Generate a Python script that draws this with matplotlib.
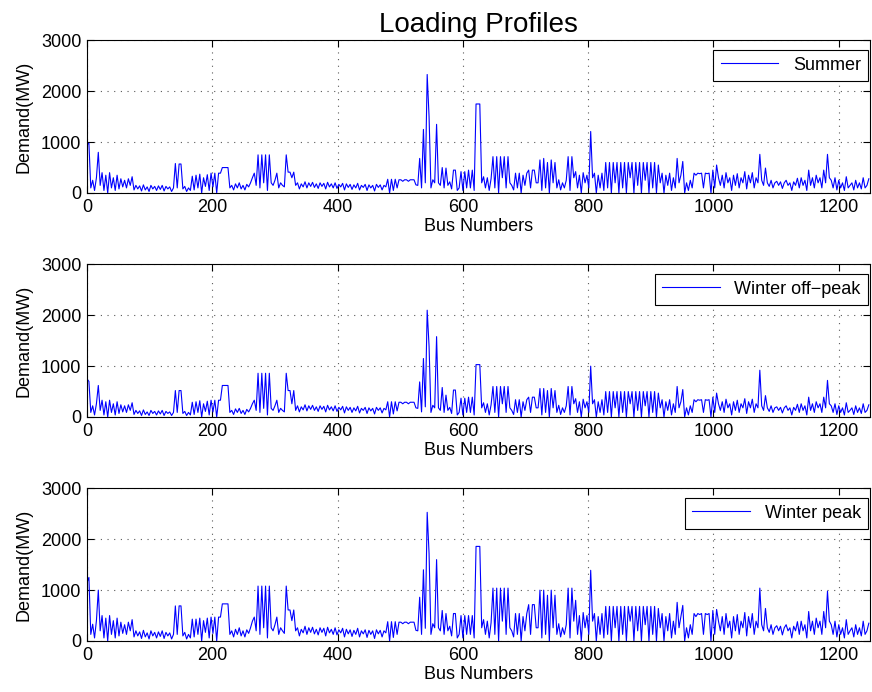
import numpy as np
import matplotlib
matplotlib.use('Agg')
import matplotlib.pyplot as plt

# demand every 3 buses (bus 0, 3, 6, ... 1248)
bus_step = 3

summer = [
    950, 980, 100, 250, 50, 300, 800, 150, 400, 50, 350, 0, 400, 100, 300, 50, 350, 80, 280, 120,
    250, 100, 280, 150, 320, 60, 150, 80, 140, 40, 160, 60, 120, 30, 150, 80, 130, 50, 140, 70,
    150, 40, 130, 80, 120, 30, 100, 580, 100, 570, 570, 80, 130, 30, 100, 50, 330, 60, 350, 100,
    370, 0, 300, 130, 360, 50, 390, 120, 390, 0, 390, 390, 500, 500, 500, 500, 100, 150, 60, 180,
    100, 200, 80, 150, 60, 170, 120, 200, 300, 390, 150, 750, 100, 750, 200, 750, 50, 750, 200, 150,
    250, 390, 100, 200, 150, 120, 750, 410, 410, 300, 410, 150, 200, 80, 180, 120, 220, 100, 200, 130,
    210, 110, 180, 90, 200, 130, 190, 80, 210, 120, 180, 100, 200, 90, 170, 120, 190, 60, 180, 110,
    170, 70, 160, 100, 190, 60, 150, 110, 170, 50, 160, 100, 150, 40, 170, 110, 160, 60, 150, 120,
    270, 0, 270, 50, 270, 100, 260, 260, 230, 260, 260, 230, 260, 260, 260, 160, 150, 680, 100, 1250,
    200, 2330, 1500, 100, 260, 200, 1350, 200, 150, 500, 100, 490, 150, 220, 80, 450, 450, 50, 100, 420,
    50, 420, 100, 450, 100, 450, 50, 1750, 1750, 1750, 200, 320, 100, 300, 50, 280, 715, 100, 715, 0,
    715, 300, 715, 100, 715, 200, 150, 60, 390, 100, 390, 0, 350, 150, 390, 450, 100, 450, 450, 200,
    200, 650, 50, 680, 100, 600, 0, 650, 200, 600, 100, 260, 60, 200, 100, 250, 715, 50, 715, 300,
    420, 100, 350, 0, 400, 200, 350, 100, 1210, 300, 390, 0, 350, 100, 390, 50, 600, 100, 600, 0,
    600, 200, 600, 0, 600, 100, 600, 0, 600, 300, 600, 0, 600, 150, 600, 0, 600, 250, 600, 0,
    600, 100, 600, 0, 550, 200, 390, 0, 350, 150, 390, 50, 300, 100, 680, 200, 350, 620, 0, 200,
    50, 250, 100, 390, 350, 390, 380, 390, 100, 390, 380, 390, 0, 450, 100, 550, 300, 150, 350, 100,
    400, 200, 300, 50, 350, 150, 380, 100, 300, 200, 420, 80, 350, 200, 400, 100, 300, 200, 760, 250,
    150, 490, 200, 130, 250, 100, 200, 230, 150, 220, 90, 200, 250, 150, 200, 50, 220, 150, 290, 100,
    300, 150, 250, 50, 450, 150, 300, 100, 350, 200, 300, 100, 450, 200, 760, 300, 250, 100, 300, 60,
    250, 100, 200, 50, 320, 100, 150, 200, 60, 250, 100, 200, 80, 300, 100, 150, 280,
]

winter_offpeak = [
    750, 700, 90, 220, 40, 260, 620, 130, 330, 40, 300, 0, 330, 90, 260, 40, 300, 70, 240, 100,
    220, 90, 240, 130, 280, 50, 130, 70, 120, 30, 140, 50, 100, 30, 130, 70, 110, 40, 120, 60,
    130, 30, 110, 70, 100, 30, 90, 520, 90, 520, 520, 70, 110, 30, 90, 40, 290, 50, 300, 90,
    320, 0, 260, 110, 310, 40, 330, 100, 330, 0, 330, 330, 620, 620, 620, 620, 90, 130, 50, 160,
    90, 170, 70, 130, 50, 150, 100, 170, 260, 330, 130, 860, 90, 860, 170, 860, 40, 860, 170, 130,
    220, 330, 90, 170, 130, 100, 860, 520, 520, 260, 520, 130, 220, 100, 200, 140, 240, 120, 220, 150,
    230, 130, 200, 110, 220, 150, 210, 100, 230, 140, 200, 120, 220, 110, 190, 140, 210, 80, 200, 130,
    190, 90, 180, 120, 210, 80, 170, 130, 190, 70, 180, 120, 170, 60, 190, 130, 180, 80, 170, 140,
    300, 0, 300, 60, 300, 120, 290, 290, 260, 290, 290, 260, 290, 290, 290, 180, 170, 690, 100, 1150,
    200, 2100, 1390, 90, 230, 180, 1580, 180, 130, 580, 90, 430, 130, 190, 70, 530, 530, 40, 90, 370,
    40, 370, 90, 390, 90, 390, 40, 1030, 1030, 1030, 180, 280, 90, 260, 40, 240, 600, 90, 600, 0,
    600, 260, 600, 90, 600, 180, 130, 50, 340, 90, 340, 0, 300, 130, 340, 390, 90, 390, 390, 180,
    180, 560, 40, 560, 90, 520, 0, 560, 180, 520, 90, 230, 50, 180, 90, 220, 600, 40, 600, 260,
    360, 90, 300, 0, 350, 180, 300, 90, 1000, 260, 340, 0, 300, 90, 340, 40, 500, 90, 500, 0,
    500, 180, 500, 0, 500, 90, 500, 0, 500, 260, 500, 0, 500, 130, 500, 0, 500, 220, 500, 0,
    500, 90, 500, 0, 470, 180, 340, 0, 300, 130, 340, 40, 260, 90, 600, 180, 300, 540, 0, 180,
    40, 220, 90, 340, 300, 340, 330, 340, 90, 340, 330, 340, 0, 390, 90, 470, 260, 130, 300, 90,
    350, 180, 260, 40, 300, 130, 330, 90, 260, 180, 360, 70, 300, 180, 350, 90, 260, 180, 920, 220,
    130, 420, 180, 110, 220, 90, 180, 200, 130, 190, 80, 180, 220, 130, 180, 40, 190, 130, 250, 90,
    260, 130, 220, 40, 390, 130, 260, 90, 300, 180, 260, 90, 390, 180, 720, 260, 220, 90, 260, 50,
    220, 90, 180, 40, 280, 90, 130, 180, 50, 220, 90, 180, 70, 260, 90, 130, 240,
]

winter_peak = [
    1150, 1250, 130, 330, 60, 400, 1000, 200, 500, 60, 450, 0, 500, 130, 400, 60, 450, 100, 370, 150,
    320, 130, 370, 200, 420, 80, 200, 100, 180, 50, 210, 80, 160, 40, 200, 100, 170, 60, 180, 90,
    200, 50, 170, 100, 160, 40, 130, 690, 130, 690, 690, 100, 170, 40, 130, 60, 430, 80, 430, 130,
    450, 0, 400, 170, 450, 60, 470, 150, 470, 0, 470, 470, 730, 730, 730, 730, 130, 200, 80, 230,
    130, 260, 100, 200, 80, 220, 150, 260, 390, 470, 200, 1080, 130, 1080, 260, 1080, 60, 1080, 260, 200,
    320, 470, 130, 260, 200, 150, 1080, 610, 610, 400, 610, 200, 260, 100, 230, 160, 290, 130, 260, 170,
    270, 140, 230, 120, 260, 170, 250, 100, 270, 160, 230, 130, 260, 120, 220, 160, 250, 80, 230, 140,
    220, 90, 210, 130, 250, 80, 200, 140, 220, 70, 210, 130, 200, 50, 220, 140, 210, 80, 200, 160,
    380, 0, 380, 70, 380, 130, 370, 370, 340, 370, 370, 340, 370, 370, 370, 210, 200, 860, 130, 1400,
    250, 2530, 1720, 130, 340, 260, 1600, 260, 200, 600, 130, 540, 200, 290, 100, 540, 540, 60, 130, 500,
    60, 500, 130, 500, 130, 500, 60, 1860, 1860, 1860, 260, 420, 130, 390, 60, 360, 1040, 130, 1040, 0,
    1040, 390, 1040, 130, 1040, 260, 200, 80, 540, 130, 540, 0, 480, 200, 540, 715, 130, 715, 715, 260,
    260, 1000, 60, 1000, 130, 900, 0, 1000, 260, 900, 130, 340, 80, 260, 130, 320, 1040, 60, 1040, 390,
    800, 130, 500, 0, 560, 260, 500, 130, 1390, 390, 540, 0, 480, 130, 540, 60, 680, 130, 680, 0,
    680, 260, 680, 0, 680, 130, 680, 0, 680, 390, 680, 0, 680, 200, 680, 0, 680, 320, 680, 0,
    680, 130, 680, 0, 640, 260, 540, 0, 480, 200, 540, 60, 390, 130, 760, 260, 480, 700, 0, 260,
    60, 320, 130, 540, 480, 540, 520, 540, 130, 540, 520, 540, 0, 600, 130, 620, 390, 200, 480, 130,
    540, 260, 390, 60, 480, 200, 520, 130, 390, 260, 560, 100, 480, 260, 540, 130, 390, 260, 1040, 320,
    200, 640, 260, 170, 320, 130, 260, 300, 200, 290, 120, 260, 320, 200, 260, 60, 290, 200, 380, 130,
    390, 200, 320, 60, 580, 200, 390, 130, 450, 260, 390, 130, 580, 260, 980, 390, 320, 130, 390, 80,
    320, 130, 260, 60, 420, 130, 200, 260, 80, 320, 130, 260, 100, 390, 130, 200, 350,
]

series = [summer, winter_offpeak, winter_peak]
names = ['Summer', 'Winter off\u2212peak', 'Winter peak']

plt.rcParams['font.family'] = ['Liberation Sans', 'DejaVu Sans']
plt.rcParams['font.size'] = 13
plt.rcParams['xtick.direction'] = 'in'
plt.rcParams['ytick.direction'] = 'in'
plt.rcParams['xtick.top'] = True
plt.rcParams['ytick.right'] = True

fig = plt.figure(figsize=(8.72, 6.92), dpi=100)
bottoms = [0.7211, 0.3974, 0.0737]  # panel positions from the reference

for k in range(3):
    ax = fig.add_axes([0.0998, bottoms[k], 0.898, 0.2205])
    y = np.array(series[k])
    x = np.arange(len(y)) * bus_step
    ax.plot(x, y, color='blue', lw=0.8, label=names[k])
    ax.set_xlim(0, 1250)
    ax.set_ylim(0, 3000)
    ax.set_xticks(range(0, 1201, 200))
    ax.set_yticks([0, 1000, 2000, 3000])
    ax.grid(True, linestyle=(0, (1, 5)), color='0.35', lw=0.8)
    ax.tick_params(length=5, width=0.8, pad=4)
    ax.set_xlabel('Bus Numbers', labelpad=2)
    ax.set_ylabel('Demand(MW)', labelpad=6)
    for s in ax.spines.values():
        s.set_linewidth(0.8)
    leg = ax.legend(loc='upper right', bbox_to_anchor=(0.9974, 0.94),
                    fancybox=False, handlelength=3.2, borderaxespad=0,
                    framealpha=1, edgecolor='black')
    leg.get_frame().set_linewidth(0.8)
    if k == 0:
        ax.set_title('Loading Profiles', fontsize=20, pad=6)

fig.savefig('out.png', dpi=100)
